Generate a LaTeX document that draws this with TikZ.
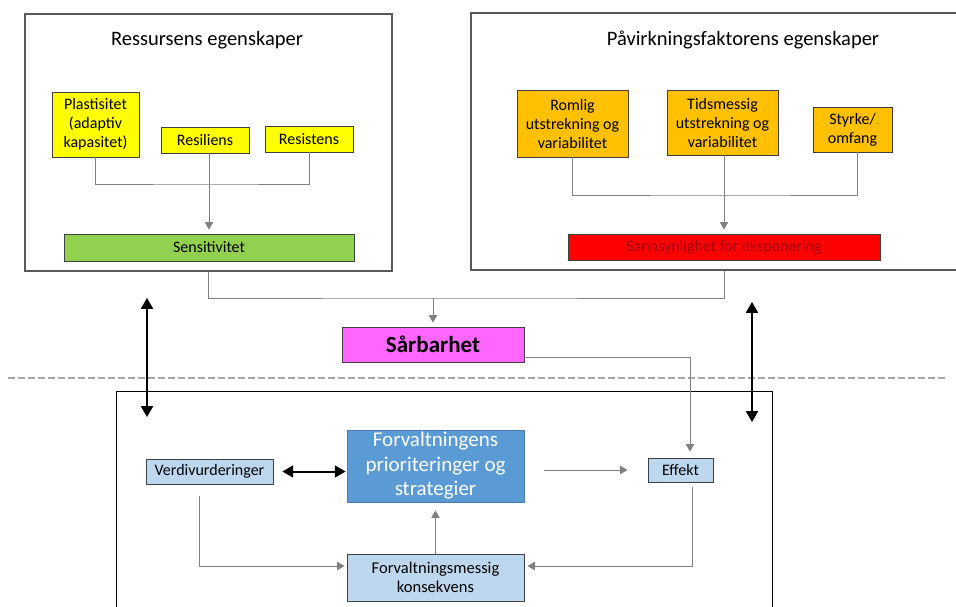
\documentclass[tikz,border=0pt]{standalone}
\usepackage{fontspec}
\setmainfont{Carlito}
\usepackage{tikz}
\usetikzlibrary{arrows}
\usetikzlibrary{positioning}

\definecolor{gul}{HTML}{FFFF00}
\definecolor{oransje}{HTML}{FFC000}
\definecolor{groenn}{HTML}{92D050}
\definecolor{roed}{HTML}{FF0000}
\definecolor{moerkroed}{HTML}{A00010}
\definecolor{rosa}{HTML}{FF66FF}
\definecolor{blaa}{HTML}{5B9BD5}
\definecolor{lyseblaa}{HTML}{BDD7EE}

\begin{document}
\begin{tikzpicture}[x=1pt, y=-1pt, font=\fontsize{16}{19}\selectfont,
        box/.style={draw=black!75, line width=0.9pt, align=center, inner sep=0pt},
        frame/.style={draw=black!65, line width=1.2pt, inner sep=0pt},
        conn/.style={draw=black!50, line width=1pt},
        arr/.style={conn, -triangle 60},
        twoway/.style={draw=black, line width=2pt, triangle 60-triangle 60},
        skille/.style={draw=black!35, line width=2.5pt, dash pattern=on 7pt off 3pt}]
        \useasboundingbox (0,0) rectangle (956,606);

        % ressursens egenskaper
        \node [frame, minimum width=367, minimum height=257] (ressurs) at (208.5,142.5) {};
        \node [font=\fontsize{20.5}{24}\selectfont] (ressurstittel) at (207,40) {Ressursens egenskaper};
        \node [box, fill=gul, minimum width=87, minimum height=65] (plastisitet) at (95.5,124.5) {Plastisitet\\(adaptiv\\kapasitet)};
        \node [box, fill=gul, minimum width=88, minimum height=26] (resiliens) at (205,140) {Resiliens};
        \node [box, fill=gul, minimum width=88, minimum height=26] (resistens) at (309,139) {Resistens};
        \node [box, fill=groenn, minimum width=290, minimum height=27] (sensitivitet) at (209,247.5) {Sensitivitet};

        % påvirkningsfaktorens egenskaper
        \node [frame, minimum width=499, minimum height=257] (paavirkning) at (720.5,141.5) {};
        \node [font=\fontsize{20.5}{24}\selectfont] (paavirkningtittel) at (743,40) {Påvirkningsfaktorens egenskaper};
        \node [box, fill=oransje, minimum width=111, minimum height=67] (romlig) at (572.5,123.5) {Romlig\\utstrekning og\\variabilitet};
        \node [box, fill=oransje, minimum width=111, minimum height=65] (tidsmessig) at (722.5,122.5) {Tidsmessig\\utstrekning og\\variabilitet};
        \node [box, fill=oransje, minimum width=79, minimum height=45] (styrke) at (852.5,129.5) {Styrke/\\omfang};
        \node [box, fill=roed, text=moerkroed, minimum width=312, minimum height=26] (sannsynlighet) at (724,247) {Sannsynlighet for eksponering};

        \node [box, fill=rosa, minimum width=182, minimum height=35, font=\fontsize{23}{26}\selectfont\bfseries] (saarbarhet) at (433,344.5) {Sårbarhet};

        % forvaltning
        \coordinate (skilleV) at (8,378);
        \coordinate (skilleH) at (947,378);
        \draw [skille] (skilleV) -- (skilleH);
        \node [draw=black, line width=1pt, inner sep=0pt, minimum width=656, minimum height=229] (forvaltning) at (444,505.5) {};
        \node [box, fill=lyseblaa, minimum width=127, minimum height=25] (verdi) at (209.5,471.5) {Verdivurderinger};
        \node [box, draw=blaa!80!black, fill=blaa, text=white, minimum width=177, minimum height=72, font=\fontsize{21}{24.5}\selectfont] (strategi) at (435.5,466) {Forvaltningens\\prioriteringer og\\strategier};
        \node [box, fill=lyseblaa, minimum width=65, minimum height=24] (effekt) at (680.5,470) {Effekt};
        \node [box, fill=lyseblaa, minimum width=177, minimum height=47, font=\fontsize{16.5}{19}\selectfont] (konsekvens) at (435.5,577.5) {Forvaltningsmessig\\konsekvens};

        % forbindelser
        \coordinate (ressursledd) at (209,184);
        \coordinate (paavirkningledd) at (725,195);
        \coordinate (saarbarhetledd) at (433,298);
        \draw [conn] (plastisitet) |- (ressursledd) -| (resistens);
        \draw [arr, shorten >=4] (resiliens.south -| sensitivitet) -- (sensitivitet);
        \draw [conn] (romlig) |- (paavirkningledd) -| ([xshift=4.5]styrke.south);
        \draw [arr, shorten >=4] (tidsmessig.south -| sannsynlighet) -- (sannsynlighet);
        \draw [conn] (ressurs) |- (saarbarhetledd) -| (paavirkning.south -| sannsynlighet);
        \draw [arr, shorten >=4] (saarbarhetledd) -- (saarbarhet);
        \draw [arr, shorten >=6] ([yshift=-12.5]saarbarhet.east) -| ([xshift=9.5]effekt.north);

        \coordinate (venstreopp) at (147,298);
        \coordinate (venstrened) at (147,417);
        \coordinate (hoyreopp) at (752,302);
        \coordinate (hoyrened) at (752,422);
        \draw [twoway] (venstreopp) -- (venstrened);
        \draw [twoway] (hoyreopp) -- (hoyrened);

        \draw [twoway, shorten <=9, shorten >=1] (verdi.east) -- (verdi.east -| strategi.west);
        \draw [arr, shorten <=20, shorten >=20] (strategi.east |- effekt) -- (effekt);
        \draw [arr, shorten <=12, shorten >=2] ([xshift=-10.5]verdi.south) |- ([yshift=11.5]konsekvens.west);
        \draw [arr, shorten <=5, shorten >=3] ([xshift=11.5]effekt.south) |- ([yshift=11.5]konsekvens.east);
        \draw [arr, shorten >=8] (konsekvens) -- (strategi);
    \end{tikzpicture}
\end{document}
